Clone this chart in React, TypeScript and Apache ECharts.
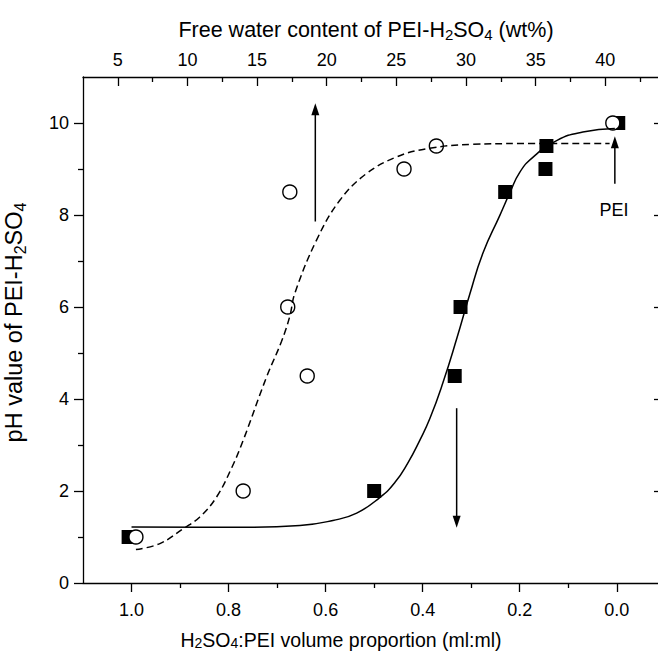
import React, { useEffect, useRef } from "react";
import * as echarts from "echarts";

// ---- tick values ----
const proportionTicks = [0, 0.2, 0.4, 0.6, 0.8, 1.0];
const proportionMinorTicks = [0.1, 0.3, 0.5, 0.7, 0.9];
const waterTicks = [5, 10, 15, 20, 25, 30, 35, 40];
const waterMinorTicks = [7.5, 12.5, 17.5, 22.5, 27.5, 32.5, 37.5, 42.5];
const phTicks = [0, 2, 4, 6, 8, 10];
const phMinorTicks = [1, 3, 5, 7, 9];
const phRightTicks = [2, 4, 6, 8, 10];

// ---- measured points ----
// filled squares: H2SO4:PEI volume proportion (bottom axis)
const squareProportion = [1.006, 0.5, 0.334, 0.322, 0.23, 0.147, 0.145, -0.003];
const squarePH = [1, 2, 4.5, 6, 8.5, 9, 9.5, 10];
// open circles: free water content (top axis)
const circleWater = [6.3, 14.0, 18.6, 17.2, 17.35, 25.55, 27.87, 40.54];
const circlePH = [1, 2, 4.5, 6, 8.5, 9, 9.5, 10];

// ---- fitted curves ----
const solidFitProportion = [1.0, 0.859, 0.756, 0.653, 0.585, 0.536, 0.488, 0.457, 0.431, 0.406, 0.385, 0.358, 0.329, 0.303, 0.276, 0.241, 0.22, 0.2, 0.173, 0.123, 0.07, 0.004];
const solidFitPH = [1.217, 1.212, 1.214, 1.25, 1.36, 1.52, 1.863, 2.189, 2.602, 3.102, 3.58, 4.363, 5.341, 6.276, 7.167, 7.993, 8.493, 8.928, 9.254, 9.624, 9.804, 9.878];
const dashedFitWater = [6.3, 8.02, 9.7, 10.89, 12.09, 13.17, 14.0, 15.68, 16.75, 17.35, 17.71, 19.26, 20.94, 22.85, 25.0, 27.16, 30.5, 33.85, 40.31];
const dashedFitPH = [0.726, 0.857, 1.183, 1.435, 1.87, 2.5, 3.1, 4.48, 5.25, 5.8, 6.3, 7.45, 8.32, 8.9, 9.26, 9.44, 9.537, 9.552, 9.552];

// ---- arrows: [x, fromPH, toPH] ----
const upArrowWater = [19.18, 7.86, 10.3];
const downArrowProportion = [0.33, 3.8, 1.33];
const peiArrowProportion = [0.004, 8.68, 9.58];

const FONT = "'Liberation Sans', Arial, Helvetica, sans-serif";
const BLACK = "#000";

function zip(a: number[], b: number[]) {
  return a.map((v, i) => [v, b[i]]);
}

function arrowData(x: number, from: number, to: number, rotate: number) {
  return [
    { value: [x, from], symbol: "none" },
    { value: [x, to], symbol: "triangle", symbolSize: [8, 12], symbolRotate: rotate },
  ];
}

function makeRich(size: number, lineHeight: number) {
  return {
    n: { fontSize: size, fontFamily: FONT, color: BLACK, lineHeight },
    s: {
      fontSize: Math.round(size * 0.7),
      fontFamily: FONT,
      color: BLACK,
      lineHeight,
      verticalAlign: "bottom",
    },
  };
}

export default function App() {
  const ref = useRef<HTMLDivElement>(null);

  useEffect(() => {
    document.body.style.margin = "0";
    const chart = echarts.init(ref.current!, undefined, { renderer: "svg" });

    const labelStyle = { fontSize: 18, fontFamily: FONT, color: BLACK };
    const lineStyle = { color: BLACK, width: 1.3 };

    const xRange = { min: -0.0911, max: 1.1 };
    const topRange = { min: 2.5, max: 44 };
    const yRange = { min: 0, max: 11 };

    const option: any = {
      animation: false,
      backgroundColor: "#fff",
      grid: { left: 83, top: 77, width: 578, height: 506, outerBoundsMode: "none", containLabel: false },
      xAxis: [
        {
          type: "value",
          position: "bottom",
          inverse: true,
          ...xRange,
          axisLine: { show: true, onZero: false, lineStyle },
          axisTick: { show: true, inside: false, length: 9, lineStyle, customValues: proportionTicks },
          axisLabel: {
            ...labelStyle,
            margin: 18,
            customValues: proportionTicks,
            formatter: (v: number) => v.toFixed(1),
          },
          splitLine: { show: false },
          name: "{n|H}{s|2}{n|SO}{s|4}{n|:PEI volume proportion (ml:ml)}",
          nameLocation: "middle",
          nameGap: 47,
          nameTextStyle: { rich: makeRich(19.5, 20), padding: [0, 62, 0, 0] },
        },
        {
          type: "value",
          position: "bottom",
          inverse: true,
          ...xRange,
          axisLine: { show: false, onZero: false },
          axisTick: { show: true, inside: false, length: 5, lineStyle, customValues: proportionMinorTicks },
          axisLabel: { show: false },
          splitLine: { show: false },
        },
        {
          type: "value",
          position: "top",
          ...topRange,
          axisLine: { show: true, onZero: false, lineStyle },
          axisTick: { show: true, inside: true, length: 9, lineStyle, customValues: waterTicks },
          axisLabel: { ...labelStyle, margin: 8, customValues: waterTicks },
          splitLine: { show: false },
          name: "{n|Free water content of PEI-H}{s|2}{n|SO}{s|4}{n| (wt%)}",
          nameLocation: "middle",
          nameGap: 35,
          nameTextStyle: { rich: makeRich(21.5, 24), padding: [0, 12, 0, 0] },
        },
        {
          type: "value",
          position: "top",
          ...topRange,
          axisLine: { show: false, onZero: false },
          axisTick: { show: true, inside: true, length: 5, lineStyle, customValues: waterMinorTicks },
          axisLabel: { show: false },
          splitLine: { show: false },
        },
      ],
      yAxis: [
        {
          type: "value",
          position: "left",
          ...yRange,
          axisLine: { show: true, onZero: false, lineStyle },
          axisTick: { show: true, inside: false, length: 9, lineStyle, customValues: phTicks },
          axisLabel: { ...labelStyle, margin: 14, customValues: phTicks },
          splitLine: { show: false },
          name: "{n|pH value of PEI-H}{s|2}{n|SO}{s|4}",
          nameLocation: "middle",
          nameGap: 55,
          nameRotate: 90,
          nameTextStyle: { rich: makeRich(23.5, 28), padding: [0, 0, 0, 15] },
        },
        {
          type: "value",
          position: "left",
          ...yRange,
          axisLine: { show: false, onZero: false },
          axisTick: { show: true, inside: false, length: 5, lineStyle, customValues: phMinorTicks },
          axisLabel: { show: false },
          splitLine: { show: false },
        },
        {
          type: "value",
          position: "right",
          ...yRange,
          axisLine: { show: false, onZero: false },
          axisTick: { show: true, inside: true, length: 7, lineStyle, customValues: phRightTicks },
          axisLabel: { show: false },
          splitLine: { show: false },
        },
      ],
      series: [
        {
          type: "scatter",
          name: "squares",
          xAxisIndex: 0,
          yAxisIndex: 0,
          symbol: "rect",
          symbolSize: 14,
          itemStyle: { color: BLACK, opacity: 1 },
          data: zip(squareProportion, squarePH),
          z: 2,
        },
        {
          type: "scatter",
          name: "circles",
          xAxisIndex: 2,
          yAxisIndex: 0,
          symbol: "circle",
          symbolSize: 14,
          itemStyle: { color: "#fff", borderColor: BLACK, borderWidth: 1.4, opacity: 1 },
          data: zip(circleWater, circlePH),
          z: 3,
        },
        {
          type: "line",
          name: "solid fit",
          xAxisIndex: 0,
          yAxisIndex: 0,
          showSymbol: false,
          symbol: "none",
          smooth: 0.5,
          lineStyle: { color: BLACK, width: 1.5 },
          data: zip(solidFitProportion, solidFitPH),
          z: 4,
        },
        {
          type: "line",
          name: "dashed fit",
          xAxisIndex: 2,
          yAxisIndex: 0,
          showSymbol: false,
          symbol: "none",
          smooth: 0.4,
          lineStyle: { color: BLACK, width: 1.5, type: [7, 4] },
          data: zip(dashedFitWater, dashedFitPH),
          z: 4,
        },
        {
          type: "line",
          name: "up arrow",
          xAxisIndex: 2,
          yAxisIndex: 0,
          lineStyle: { color: BLACK, width: 1.5 },
          itemStyle: { color: BLACK, opacity: 1 },
          data: arrowData(upArrowWater[0], upArrowWater[1], upArrowWater[2], 0),
          z: 5,
        },
        {
          type: "line",
          name: "down arrow",
          xAxisIndex: 0,
          yAxisIndex: 0,
          lineStyle: { color: BLACK, width: 1.5 },
          itemStyle: { color: BLACK, opacity: 1 },
          data: arrowData(downArrowProportion[0], downArrowProportion[1], downArrowProportion[2], 180),
          z: 5,
        },
        {
          type: "line",
          name: "PEI arrow",
          xAxisIndex: 0,
          yAxisIndex: 0,
          lineStyle: { color: BLACK, width: 1.5 },
          itemStyle: { color: BLACK, opacity: 1 },
          data: arrowData(peiArrowProportion[0], peiArrowProportion[1], peiArrowProportion[2], 0),
          z: 5,
        },
      ],
      graphic: [
        {
          type: "text",
          x: 614,
          y: 210,
          style: {
            text: "PEI",
            fontSize: 18,
            fontFamily: FONT,
            fill: BLACK,
            textAlign: "center",
            textVerticalAlign: "middle",
          },
        },
      ],
    };

    chart.setOption(option);
    return () => chart.dispose();
  }, []);

  return (
    <div
      ref={ref}
      style={{ position: "fixed", left: 0, top: 0, width: 658, height: 651, background: "#fff" }}
    />
  );
}
